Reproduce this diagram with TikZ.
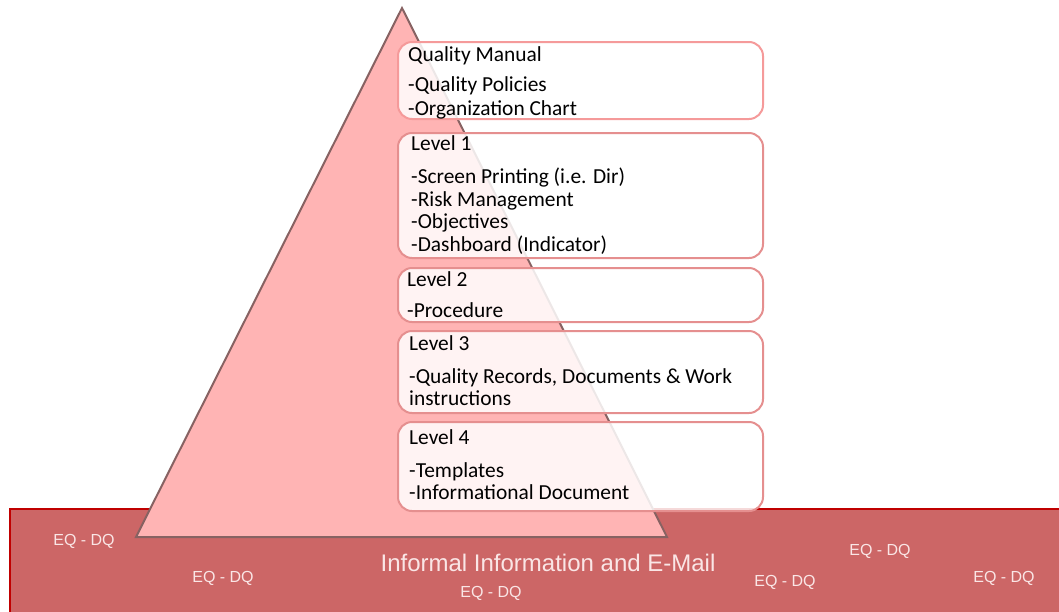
\documentclass[tikz,border=0pt]{standalone}
\usepackage{fontspec}
\setmainfont{Carlito}
\newfontfamily\bandfont{Liberation Sans}
\definecolor{bandfill}{HTML}{CC6666}
\definecolor{bandline}{HTML}{C00000}
\definecolor{trifill}{HTML}{FFB4B4}
\definecolor{triline}{HTML}{876262}
\definecolor{boxline}{HTML}{E58F8F}
\definecolor{boxlineA}{HTML}{F59A9A}
\definecolor{eqtext}{HTML}{FAE6E6}
\begin{document}
\begin{tikzpicture}[x=1pt,y=-1pt,
  levelbox/.style={draw=boxline,line width=2pt,rounded corners=14pt,fill=white,fill opacity=0.85},
  boxtext/.style={anchor=base west,inner sep=0pt,font=\fontsize{21.4}{24}\selectfont,text=black},
  eqlabel/.style={text=eqtext,font=\bandfont\fontsize{16}{18}\selectfont,inner sep=0pt},
  bigtitle/.style={text=eqtext,font=\bandfont\fontsize{24}{28}\selectfont,inner sep=0pt}]
\useasboundingbox (0,0) rectangle (1059,611);
% band
\fill[bandfill] (10,509) rectangle (1062,614);
\draw[bandline,line width=2pt] (10,614) -- (10,509) -- (1062,509);
% triangle
\coordinate (apex) at (402,8);
\coordinate (bl) at (136,537);
\coordinate (br) at (667,537);
\draw[triline,fill=trifill,line width=2pt,line join=miter] (apex) -- (br) -- (bl) -- cycle;
% boxes
\draw[levelbox,draw=boxlineA] (398,42) rectangle (763,119);
\draw[levelbox] (398,133) rectangle (763,258);
\draw[levelbox] (398,268) rectangle (763,322);
\draw[levelbox] (398,331) rectangle (763,413);
\draw[levelbox] (398,422) rectangle (763,511);
% texts
\node[boxtext] (qm) at (408,61) {Quality Manual};
\node[boxtext] (qma) at (408,91) {-Quality Policies};
\node[boxtext] (qmb) at (408,115) {-Organization Chart};
\node[boxtext] (l1) at (411,150) {Level 1};
\node[boxtext] (l1a) at (411,183) {-Screen Printing (i.e. Dir)};
\node[boxtext] (l1b) at (411,206) {-Risk Management};
\node[boxtext] (l1c) at (411,228) {-Objectives};
\node[boxtext] (l1d) at (411,251) {-Dashboard (Indicator)};
\node[boxtext] (l2) at (407,286) {Level 2};
\node[boxtext] (l2a) at (407,317) {-Procedure};
\node[boxtext] (l3) at (409,350) {Level 3};
\node[boxtext] (l3a) at (409,383) {-Quality Records, Documents \& Work};
\node[boxtext] (l3b) at (409,405) {instructions};
\node[boxtext] (l4) at (409,444) {Level 4};
\node[boxtext] (l4a) at (409,477) {-Templates};
\node[boxtext] (l4b) at (409,499) {-Informational Document};
% band texts
\node[bigtitle] (title) at (548,563) {Informal Information and E-Mail};
\node[eqlabel] (e1) at (84,541) {EQ - DQ};
\node[eqlabel] (e2) at (223,578) {EQ - DQ};
\node[eqlabel] (e3) at (491,593) {EQ - DQ};
\node[eqlabel] (e4) at (880,551) {EQ - DQ};
\node[eqlabel] (e5) at (785,582) {EQ - DQ};
\node[eqlabel] (e6) at (1004,578) {EQ - DQ};
\end{tikzpicture}
\end{document}
